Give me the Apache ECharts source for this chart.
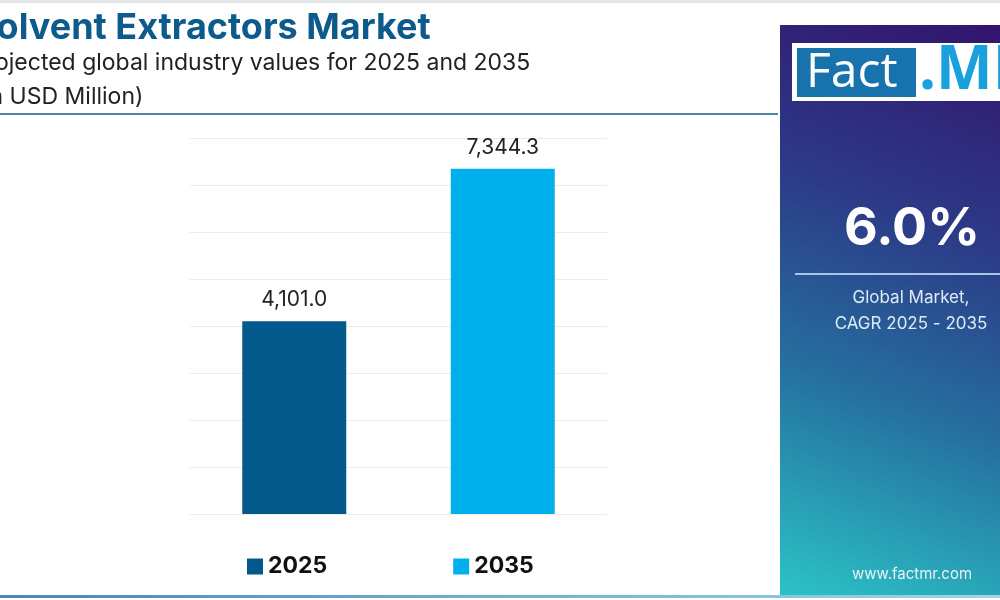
<!DOCTYPE html>
<html>
<head>
<meta charset="utf-8">
<title>Solvent Extractors Market</title>
<script src="https://cdn.jsdelivr.net/npm/echarts@6/dist/echarts.min.js"></script>
<style>
  html, body { margin: 0; padding: 0; background: #fff; }
  #chart { width: 1000px; height: 600px; }
</style>
</head>
<body>
<div id="chart"></div>
<script>
// chart values
var categories = ['2025', '2035'];
var seriesNames = ['2025', '2035'];
var values2025 = [4101.0, '-'];
var values2035 = ['-', 7344.3];
var barColors = ['#04598c', '#00b0ec'];

var cagrText = '6.0%';
var cagrLabel = ['Global Market,', 'CAGR 2025 - 2035'];

var FONT = 'Inter, "Open Sans", sans-serif';

function fmt(v) {
  return Number(v).toLocaleString('en-US', { minimumFractionDigits: 1, maximumFractionDigits: 1 });
}

var chart = echarts.init(document.getElementById('chart'));

var option = {
  backgroundColor: '#ffffff',
  animation: false,
  grid: { left: 190, right: 393, top: 138, bottom: 86 },
  legend: {
    data: seriesNames,
    left: 242,
    top: 550,
    icon: 'rect',
    itemWidth: 16,
    itemHeight: 16,
    itemGap: 126,
    textStyle: { fontFamily: FONT, fontSize: 23, fontWeight: 'bold', color: '#111' }
  },
  xAxis: {
    type: 'category',
    data: categories,
    axisLine: { show: false },
    axisTick: { show: false },
    axisLabel: { show: false }
  },
  yAxis: {
    type: 'value',
    min: 0,
    max: 8000,
    interval: 1000,
    axisLine: { show: false },
    axisTick: { show: false },
    axisLabel: { show: false },
    splitLine: { lineStyle: { color: '#ececec', width: 1 } }
  },
  series: [
    {
      name: seriesNames[0],
      type: 'bar',
      data: values2025,
      barWidth: 104,
      barGap: '-100%',
      itemStyle: { color: barColors[0] },
      label: {
        show: true, position: 'top', distance: 11,
        fontFamily: FONT, fontSize: 21, color: '#222',
        formatter: function (p) { return fmt(p.value); }
      }
    },
    {
      name: seriesNames[1],
      type: 'bar',
      data: values2035,
      barWidth: 104,
      barGap: '-100%',
      itemStyle: { color: barColors[1] },
      label: {
        show: true, position: 'top', distance: 11,
        fontFamily: FONT, fontSize: 21, color: '#222',
        formatter: function (p) { return fmt(p.value); }
      }
    }
  ],
  graphic: [
    // top grey strip
    { type: 'rect', shape: { x: 0, y: 0, width: 1000, height: 3 }, style: { fill: '#e4e6e8' } },
    // title and subtitles (clipped on the left as in the source)
    { type: 'text', style: { x: -27, y: 28, text: 'Solvent Extractors Market', verticalAlign: 'middle', fontFamily: FONT, fontSize: 36, fontWeight: 'bold', fill: '#0d5a8d' } },
    { type: 'text', style: { x: -28, y: 63, text: 'Projected global industry values for 2025 and 2035', verticalAlign: 'middle', fontFamily: FONT, fontSize: 23, fill: '#222' } },
    { type: 'text', style: { x: -25, y: 97, text: '(In USD Million)', verticalAlign: 'middle', fontFamily: FONT, fontSize: 23, fill: '#222' } },
    // header line
    { type: 'rect', shape: { x: 0, y: 113, width: 778, height: 2 }, style: { fill: '#4f86ad' } },
    // bottom line
    {
      type: 'rect', shape: { x: 0, y: 595, width: 1000, height: 3 },
      style: { fill: new echarts.graphic.LinearGradient(0, 0, 1, 0, [
        { offset: 0, color: '#4a86b8' }, { offset: 1, color: '#9fd6e6' }
      ]) }
    },
    // right panel
    {
      type: 'rect', shape: { x: 780, y: 25, width: 220, height: 570 },
      style: { fill: new echarts.graphic.LinearGradient(1, 0, 0, 1, [
        { offset: 0, color: '#33146e' },
        { offset: 0.35, color: '#2c3b88' },
        { offset: 0.65, color: '#25719f' },
        { offset: 1, color: '#2bc3c6' }
      ]) }
    },
    // logo
    { type: 'rect', shape: { x: 792, y: 43, width: 220, height: 58 }, style: { fill: '#ffffff' } },
    { type: 'rect', shape: { x: 797, y: 48, width: 119, height: 49 }, style: { fill: '#1772ad' } },
    { type: 'text', style: { x: 806, y: 73, text: 'Fact', verticalAlign: 'middle', fontFamily: '"Open Sans", sans-serif', fontSize: 48, fill: '#ffffff' } },
    { type: 'text', style: { x: 919, y: 72, text: '.MR', verticalAlign: 'middle', fontFamily: '"Open Sans", sans-serif', fontSize: 60, fontWeight: 'bold', fill: '#1aa0dc' } },
    // CAGR
    { type: 'text', style: { x: 912, y: 229, text: cagrText, align: 'center', verticalAlign: 'middle', fontFamily: FONT, fontSize: 52, fontWeight: 'bold', fill: '#ffffff' } },
    { type: 'rect', shape: { x: 795, y: 273, width: 205, height: 2 }, style: { fill: '#a9c6e6' } },
    { type: 'text', style: { x: 911, y: 298, text: cagrLabel[0], align: 'center', verticalAlign: 'middle', fontFamily: FONT, fontSize: 17, fill: '#dcecf4' } },
    { type: 'text', style: { x: 911, y: 324, text: cagrLabel[1], align: 'center', verticalAlign: 'middle', fontFamily: FONT, fontSize: 17, fill: '#dcecf4' } },
    { type: 'text', style: { x: 912, y: 574, text: 'www.factmr.com', align: 'center', verticalAlign: 'middle', fontFamily: FONT, fontSize: 15, fill: '#e4f4f8' } }
  ]
};

chart.setOption(option);
</script>
</body>
</html>
